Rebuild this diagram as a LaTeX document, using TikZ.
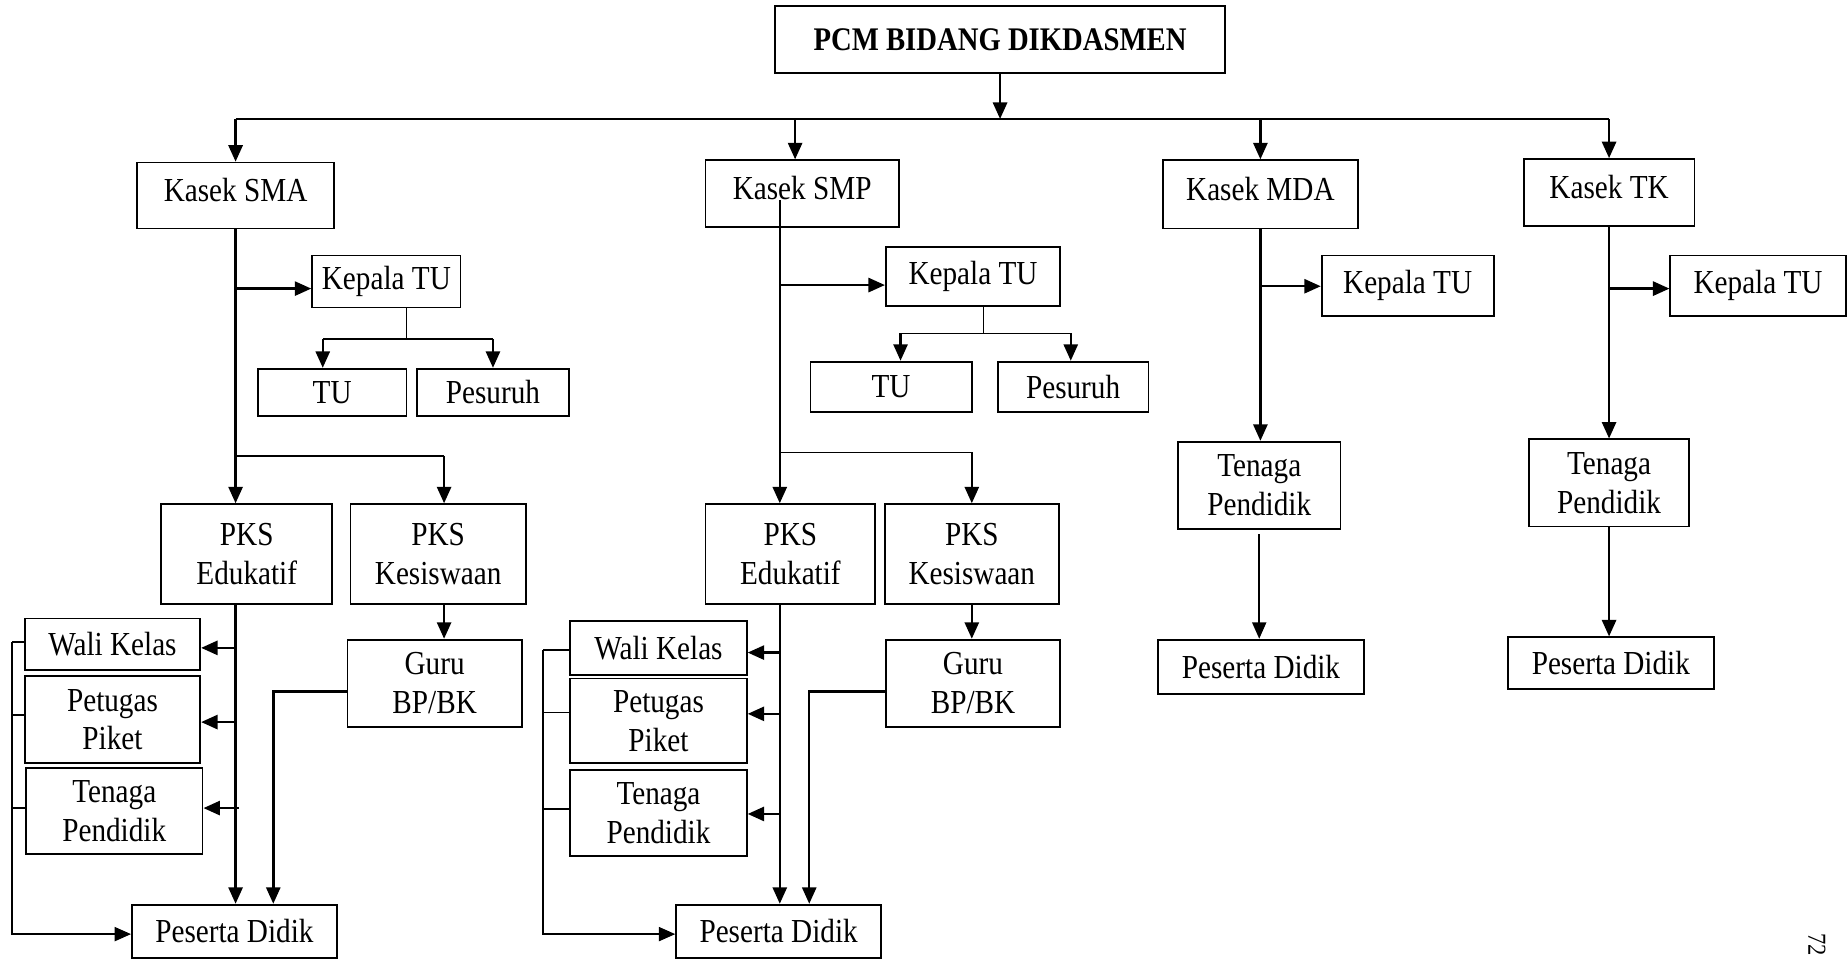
\documentclass[tikz,border=0pt]{standalone}
\usepackage{fontspec}
\setmainfont{Liberation Serif}[FakeStretch=0.87]
\usetikzlibrary{arrows.meta}
\begin{document}
\begin{tikzpicture}[x=1pt,y=-1pt,
  box/.style={draw, line width=1.5pt, inner sep=0pt, align=center, font=\fontsize{28.5}{33}\selectfont},
  headbox/.style={box, text height=20pt, text depth=10pt},
  arr/.style={line width=2.1pt, -{Triangle[length=14pt,width=12pt]}},
  ln/.style={line width=2.1pt},
  thinln/.style={line width=1.3pt},
  thinarr/.style={line width=1.5pt, -{Triangle[length=14pt,width=12pt]}}]
\useasboundingbox (0,0) rectangle (1568,814);

% top
\node[box, minimum width=382, minimum height=57, font=\bfseries\fontsize{28}{33}\selectfont] (pcm) at (849,33.5) {PCM BIDANG DIKDASMEN};
\coordinate (busL) at (200,101);
\coordinate (busR) at (1366,101);

% heads
\node[headbox, minimum width=167, minimum height=56] (smaK) at (200,166) {Kasek SMA};
\node[headbox, minimum width=164, minimum height=57] (smpK) at (681,164.5) {Kasek SMP};
\node[headbox, minimum width=166, minimum height=58] (mdaK) at (1070,165) {Kasek MDA};
\node[headbox, minimum width=145, minimum height=57] (tkK) at (1366,163.5) {Kasek TK};

% SMA
\node[box, minimum width=126, minimum height=44] (smaKTU) at (328,239) {Kepala TU};
\node[box, minimum width=126, minimum height=40] (smaTU) at (282,333) {TU};
\node[box, minimum width=129, minimum height=40] (smaPes) at (418.5,333) {Pesuruh};
\node[box, minimum width=145, minimum height=85] (smaEdu) at (209.5,470.5) {PKS\\Edukatif};
\node[box, minimum width=149, minimum height=85] (smaKes) at (372,470.5) {PKS\\Kesiswaan};
\node[box, minimum width=149, minimum height=44] (smaWali) at (95.5,547) {Wali Kelas};
\node[box, minimum width=149, minimum height=74] (smaPet) at (95.5,611) {Petugas\\Piket};
\node[box, minimum width=150, minimum height=73] (smaTen) at (97,688.5) {Tenaga\\Pendidik};
\node[box, minimum width=148, minimum height=74] (smaGuru) at (369,580) {Guru\\BP/BK};
\node[box, minimum width=174, minimum height=45] (smaPD) at (199,790.5) {Peserta Didik};

% SMP
\node[box, minimum width=148, minimum height=50] (smpKTU) at (826,235) {Kepala TU};
\node[box, minimum width=137, minimum height=43] (smpTU) at (756.5,328.5) {TU};
\node[box, minimum width=128, minimum height=43] (smpPes) at (911,328.5) {Pesuruh};
\node[box, minimum width=144, minimum height=85] (smpEdu) at (671,470.5) {PKS\\Edukatif};
\node[box, minimum width=148, minimum height=85] (smpKes) at (825,470.5) {PKS\\Kesiswaan};
\node[box, minimum width=150, minimum height=46] (smpWali) at (559,550) {Wali Kelas};
\node[box, minimum width=150, minimum height=72] (smpPet) at (559,612) {Petugas\\Piket};
\node[box, minimum width=150, minimum height=73] (smpTen) at (559,690.5) {Tenaga\\Pendidik};
\node[box, minimum width=148, minimum height=74] (smpGuru) at (826,580) {Guru\\BP/BK};
\node[box, minimum width=174, minimum height=45] (smpPD) at (661,790.5) {Peserta Didik};

% MDA
\node[box, minimum width=146, minimum height=51] (mdaKTU) at (1195,242.5) {Kepala TU};
\node[box, minimum width=138, minimum height=74] (mdaTen) at (1069,412) {Tenaga\\Pendidik};
\node[box, minimum width=175, minimum height=46] (mdaPD) at (1070.5,566) {Peserta Didik};

% TK
\node[box, minimum width=149, minimum height=51] (tkKTU) at (1492.5,242.5) {Kepala TU};
\node[box, minimum width=136, minimum height=74] (tkTen) at (1366,410) {Tenaga\\Pendidik};
\node[box, minimum width=175, minimum height=44] (tkPD) at (1367.5,563) {Peserta Didik};

% page number
\node[rotate=-90, anchor=north west, inner sep=0pt, font=\fontsize{22}{24}\selectfont] (pg) at (1550,792) {72};

% ---- top connectors
\draw[arr] (pcm.south) -- (pcm.south |- busL);
\draw[ln] (busL) -- (busR);
\draw[arr] (busL) -- (smaK.north);
\draw[arr] ([xshift=-6pt]smpK.north |- busL) -- ([xshift=-6pt]smpK.north);
\draw[arr] (mdaK.north |- busL) -- (mdaK.north);
\draw[arr] (busR) -- (tkK.north);

% ---- SMA connectors
\coordinate (smaJ) at (345,288);
\coordinate (smaJ2) at (200,387);
\coordinate (smaLB) at (10,545);
\draw[arr] (smaK.south) -- (smaK.south |- smaEdu.north);
\draw[arr] (smaK.south |- 0,245) -- (smaKTU.west |- 0,245);
\draw[thinln] (smaJ |- smaKTU.south) -- (smaJ);
\draw[thinln] ([xshift=-8pt]smaTU.north |- smaJ) -- (smaPes.north |- smaJ);
\draw[arr] ([xshift=-8pt]smaTU.north |- smaJ) -- ([xshift=-8pt]smaTU.north);
\draw[arr] (smaPes.north |- smaJ) -- (smaPes.north);
\draw[thinln] (smaJ2) -- ([xshift=5pt]smaKes.north |- smaJ2);
\draw[arr] ([xshift=5pt]smaKes.north |- smaJ2) -- ([xshift=5pt]smaKes.north);
\draw[arr] (smaK.south |- smaEdu.south) -- (smaK.south |- smaPD.north);
\draw[arr] (smaK.south |- 0,550) -- (smaWali.east |- 0,550);
\draw[arr] (smaK.south |- 0,613) -- (smaPet.east |- 0,613);
\draw[arr] ([xshift=3pt]smaK.south |- 0,686) -- (smaTen.east |- 0,686);
\draw[arr] ([xshift=5pt]smaKes.south) -- ([xshift=5pt]smaKes.south |- smaGuru.north);
\draw[arr] (smaGuru.west |- 0,587) -| ([xshift=33pt]smaPD.north);
\draw[thinln] (smaWali.west |- smaLB) -- (smaLB);
\draw[thinln] (smaPet.west |- 0,607) -- (smaLB |- 0,607);
\draw[thinln] (smaTen.west |- 0,686) -- (smaLB |- 0,686);
\draw[thinarr] (smaLB) |- (smaPD.west |- 0,793);

% ---- SMP connectors
\coordinate (smpV) at (662,170);
\coordinate (smpJ) at (835,283);
\coordinate (smpJ2) at (662,384);
\coordinate (smpLB) at (461,552);
\draw[arr] (smpV) -- (smpV |- smpEdu.north);
\draw[arr] (smpV |- 0,242) -- (smpKTU.west |- 0,242);
\draw[thinln] (smpJ |- smpKTU.south) -- (smpJ);
\draw[thinln] ([xshift=8pt]smpTU.north |- smpJ) -- ([xshift=-2pt]smpPes.north |- smpJ);
\draw[arr] ([xshift=8pt]smpTU.north |- smpJ) -- ([xshift=8pt]smpTU.north);
\draw[arr] ([xshift=-2pt]smpPes.north |- smpJ) -- ([xshift=-2pt]smpPes.north);
\draw[thinln] (smpJ2) -- (smpKes.north |- smpJ2);
\draw[arr] (smpKes.north |- smpJ2) -- (smpKes.north);
\draw[arr] (smpV |- smpEdu.south) -- (smpV |- smpPD.north);
\draw[arr] (smpV |- 0,554) -- (smpWali.east |- 0,554);
\draw[arr] (smpV |- 0,606) -- (smpPet.east |- 0,606);
\draw[arr] (smpV |- 0,691) -- (smpTen.east |- 0,691);
\draw[arr] (smpKes.south) -- (smpKes.south |- smpGuru.north);
\draw[arr] (smpGuru.west |- 0,587) -| ([xshift=26pt]smpPD.north);
\draw[thinln] (smpWali.west |- smpLB) -- (smpLB);
\draw[thinln] (smpPet.west |- 0,605) -- (smpLB |- 0,605);
\draw[thinln] (smpTen.west |- 0,687) -- (smpLB |- 0,687);
\draw[thinarr] (smpLB) |- (smpPD.west |- 0,793);

% ---- MDA connectors
\draw[arr] (mdaK.south) -- (mdaK.south |- mdaTen.north);
\draw[arr] (mdaK.south |- 0,243) -- (mdaKTU.west |- 0,243);
\draw[thinarr] ([yshift=-4pt]mdaTen.south) -- (mdaTen.south |- mdaPD.north);

% ---- TK connectors
\draw[arr] (tkK.south) -- (tkK.south |- tkTen.north);
\draw[arr] (tkK.south |- 0,245) -- (tkKTU.west |- 0,245);
\draw[arr] (tkTen.south) -- (tkTen.south |- tkPD.north);
\end{tikzpicture}
\end{document}
